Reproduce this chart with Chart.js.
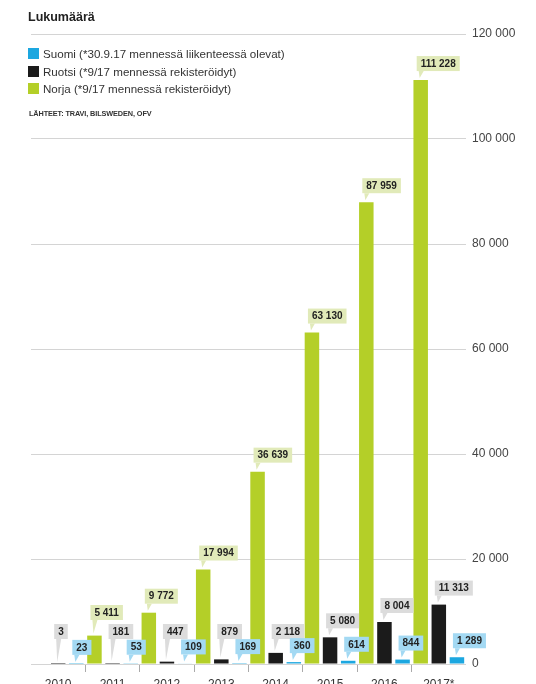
<!DOCTYPE html>
<html>
<head>
<meta charset="utf-8">
<script src="https://cdn.jsdelivr.net/npm/chart.js@4/dist/chart.umd.min.js"></script>
<style>
  body { margin: 0; background: #fff; }
  #wrap { position: relative; width: 536px; height: 684px; overflow: hidden; font-family: "Liberation Sans", Arial, sans-serif; }
  #chart { position: absolute; left: 0; top: 0; }
  .title { position: absolute; left: 28px; top: 10px; font-size: 12.5px; font-weight: bold; color: #222; }
  .legend { position: absolute; left: 28px; top: 47px; font-size: 11.6px; color: #333; }
  .legend div { height: 17.5px; line-height: 14px; white-space: nowrap; }
  .legend span { display: inline-block; width: 11px; height: 11px; margin-right: 4px; vertical-align: -1px; }
  .src { position: absolute; left: 29px; top: 109px; font-size: 7.3px; font-weight: bold; color: #333; letter-spacing: -0.1px; }
</style>
</head>
<body>
<div id="wrap">
  <canvas id="chart" width="536" height="684"></canvas>
  <div class="title">Lukumäärä</div>
  <div class="legend">
    <div><span style="background:#1ca7e0"></span>Suomi (*30.9.17 mennessä liikenteessä olevat)</div>
    <div><span style="background:#1b1b1b"></span>Ruotsi (*9/17 mennessä rekisteröidyt)</div>
    <div><span style="background:#b4cf28"></span>Norja (*9/17 mennessä rekisteröidyt)</div>
  </div>
  <div class="src">LÄHTEET: TRAVI, BILSWEDEN, OFV</div>
</div>
<script>
'use strict';

var years = ['2010', '2011', '2012', '2013', '2014', '2015', '2016', '2017*']
var norja = [null, 5411, 9772, 17994, 36639, 63130, 87959, 111228]
var ruotsi = [3, 181, 447, 879, 2118, 5080, 8004, 11313]
var suomi = [23, 53, 109, 169, 360, 614, 844, 1289]

const fmt = (n) => String(n).replace(/\B(?=(\d{3})+(?!\d))/g, ' ')

// callout colours and lowest box position (px above axis) per dataset
var boxColors = ['#e1eab9', '#dcdcdc', '#a3d9f3']
var boxLift = [44, 25, 8]

var calloutPlugin = {
	id: 'callouts',
	afterDatasetsDraw(chart) {
		var ctx = chart.ctx
		var bottom = chart.chartArea.bottom
		ctx.save()
		ctx.font = 'bold 10px "Liberation Sans", Arial, sans-serif'
		ctx.textBaseline = 'middle'
		chart.data.datasets.forEach((ds, i) => {
			chart.getDatasetMeta(i).data.forEach((bar, j) => {
				var v = ds.data[j]
				if (v == null) return
				var txt = fmt(v)
				var w = ctx.measureText(txt).width + 8
				var h = 15
				var left = bar.x - 4
				var bBottom = Math.min(bar.y - 9, bottom - boxLift[i])
				ctx.fillStyle = boxColors[i]
				ctx.fillRect(left, bBottom - h, w, h)
				ctx.beginPath()
				ctx.moveTo(left + 2, bBottom)
				ctx.lineTo(left + 7, bBottom)
				ctx.lineTo(bar.x - 1, bar.y - 2)
				ctx.closePath()
				ctx.fill()
				ctx.fillStyle = '#222'
				ctx.fillText(txt, left + 4, bBottom - h / 2 + 0.5)
			})
		})
		ctx.restore()
	}
}

var chart = new Chart(document.getElementById('chart').getContext('2d'), {
	type: 'bar',
	data: {
		labels: years,
		datasets: [
			{ label: 'Norja', data: norja, backgroundColor: '#b4cf28' },
			{ label: 'Ruotsi', data: ruotsi, backgroundColor: '#1b1b1b' },
			{ label: 'Suomi', data: suomi, backgroundColor: '#1ca7e0' }
		]
	},
	options: {
		responsive: false,
		animation: false,
		layout: { padding: { left: 31, top: 34, right: 0, bottom: 0 } },
		datasets: { bar: { categoryPercentage: 1, barPercentage: 0.8 } },
		plugins: { legend: { display: false }, tooltip: { enabled: false } },
		scales: {
			x: {
				grid: {
					drawOnChartArea: false,
					tickLength: 8,
					color: (c) => (c.type !== 'tick' || c.index == 0) ? 'rgba(0,0,0,0)' : '#aaa'
				},
				border: { display: false },
				ticks: { color: '#333', font: { size: 12, family: '"Liberation Sans", Arial, sans-serif' }, padding: 5 },
				afterFit: (s) => { s.height = 20 }
			},
			y: {
				position: 'right',
				min: 0,
				max: 120000,
				grid: { color: '#d4d4d4', drawTicks: false },
				border: { display: false },
				ticks: {
					stepSize: 20000,
					padding: 6,
					color: '#444',
					font: { size: 12, family: '"Liberation Sans", Arial, sans-serif' },
					callback: (v) => fmt(v)
				},
				afterFit: (s) => { s.width = 70 }
			}
		}
	},
	plugins: [calloutPlugin]
})
</script>
</body>
</html>
